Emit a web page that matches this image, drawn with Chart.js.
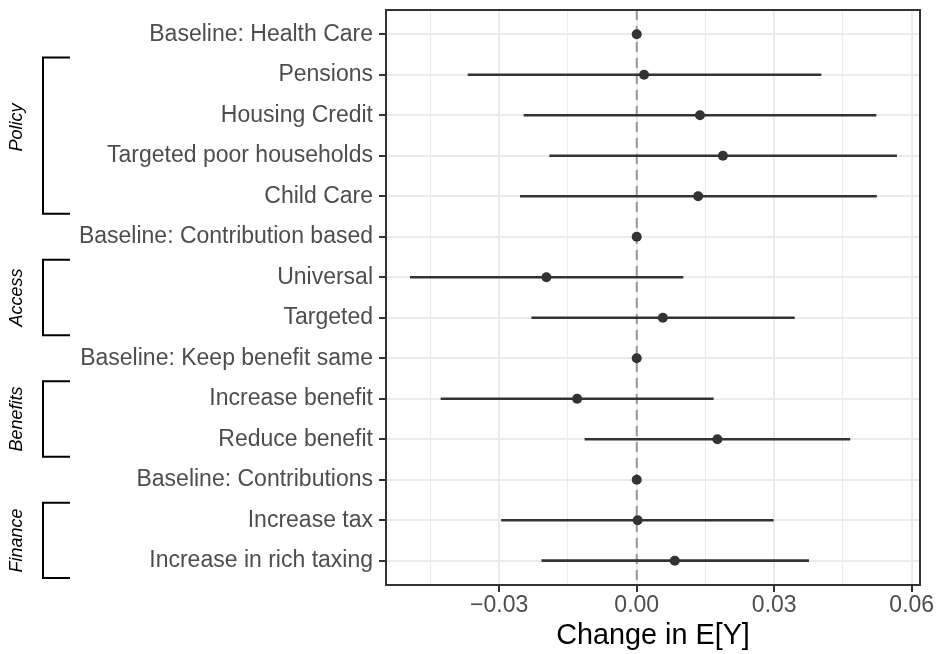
<!DOCTYPE html>
<html>
<head>
<meta charset="utf-8">
<script src="https://cdn.jsdelivr.net/npm/chart.js@4"></script>
<style>
  html, body { margin: 0; padding: 0; background: #fff; }
  #wrap { width: 938px; height: 654px; }
</style>
</head>
<body>
<div id="wrap"><canvas id="coefChart" width="938" height="654"></canvas></div>
<script>
// rows, top to bottom
const rowLabels = [
  'Baseline: Health Care', 'Pensions', 'Housing Credit', 'Targeted poor households', 'Child Care',
  'Baseline: Contribution based', 'Universal', 'Targeted',
  'Baseline: Keep benefit same', 'Increase benefit', 'Reduce benefit',
  'Baseline: Contributions', 'Increase tax', 'Increase in rich taxing'
];
const estimate = [0, 0.0016, 0.0138, 0.0188, 0.0134, 0, -0.0197, 0.0057, 0, -0.0130, 0.0176, 0, 0.0002, 0.0083];
const lower    = [0, -0.0368, -0.0246, -0.0190, -0.0254, 0, -0.0494, -0.0229, 0, -0.0427, -0.0113, 0, -0.0295, -0.0207];
const upper    = [0, 0.0402, 0.0522, 0.0567, 0.0523, 0, 0.0101, 0.0344, 0, 0.0167, 0.0465, 0, 0.0298, 0.0375];

// x axis
const majorTicks = [-0.03, 0, 0.03, 0.06];
const majorLabels = ['\u22120.03', '0.00', '0.03', '0.06'];
const minorTicks = [-0.045, -0.015, 0.015, 0.045];

// attribute groups (brackets on the left)
const groupNames = ['Policy', 'Access', 'Benefits', 'Finance'];
const groupFirst = [1, 6, 9, 12];
const groupLast  = [4, 7, 10, 13];
const groupLabelRow = [2.3, 6.5, 9.5, 12.5];

const FONT = '"Liberation Sans", Arial, Helvetica, sans-serif';
const isMajor = v => majorTicks.some(m => Math.abs(m - v) < 1e-9);

const frameAndBrackets = {
  id: 'frameAndBrackets',
  beforeDatasetsDraw(chart) {
    // dashed zero line
    const {ctx, chartArea, scales} = chart;
    const x0 = scales.x.getPixelForValue(0);
    ctx.save();
    ctx.strokeStyle = '#999999';
    ctx.lineWidth = 2;
    ctx.setLineDash([10, 6]);
    ctx.beginPath();
    ctx.moveTo(x0, chartArea.top);
    ctx.lineTo(x0, chartArea.bottom);
    ctx.stroke();
    ctx.restore();
  },
  afterDraw(chart) {
    const {ctx, chartArea, scales} = chart;
    ctx.save();
    // panel border
    ctx.strokeStyle = '#333333';
    ctx.lineWidth = 2;
    ctx.strokeRect(chartArea.left, chartArea.top, chartArea.right - chartArea.left, chartArea.bottom - chartArea.top);

    // brackets + rotated group names
    ctx.strokeStyle = '#000';
    ctx.lineWidth = 2;
    ctx.lineJoin = 'miter';
    ctx.fillStyle = '#000';
    ctx.font = 'italic 18px ' + FONT;
    ctx.textAlign = 'center';
    ctx.textBaseline = 'middle';
    groupNames.forEach((name, i) => {
      const yTop = scales.y.getPixelForValue(groupFirst[i] - 0.43);
      const yBot = scales.y.getPixelForValue(groupLast[i] + 0.43);
      ctx.beginPath();
      ctx.moveTo(70, yTop);
      ctx.lineTo(43, yTop);
      ctx.lineTo(43, yBot);
      ctx.lineTo(70, yBot);
      ctx.stroke();
      const yl = scales.y.getPixelForValue(groupLabelRow[i]);
      ctx.save();
      ctx.translate(17, yl);
      ctx.rotate(-Math.PI / 2);
      ctx.fillText(name, 0, 0);
      ctx.restore();
    });
    ctx.restore();
  }
};

new Chart(document.getElementById('coefChart'), {
  data: {
    datasets: [
      {
        type: 'bar',
        indexAxis: 'y',
        data: rowLabels.map((_, i) => ({ y: i, x: [lower[i], upper[i]] })),
        backgroundColor: '#333333',
        borderWidth: 0,
        barThickness: 2,
        order: 2
      },
      {
        type: 'scatter',
        data: rowLabels.map((_, i) => ({ x: estimate[i], y: i })),
        backgroundColor: '#333333',
        borderWidth: 0,
        pointRadius: 5,
        order: 1
      }
    ]
  },
  options: {
    responsive: false,
    animation: false,
    layout: { padding: { top: 10, right: 18, bottom: 0, left: 0 } },
    plugins: {
      legend: { display: false },
      tooltip: { enabled: false }
    },
    scales: {
      x: {
        type: 'linear',
        min: -0.0547,
        max: 0.0618,
        offset: false,
        afterBuildTicks: s => { s.ticks = majorTicks.concat(minorTicks).sort((a, b) => a - b).map(v => ({ value: v })); },
        afterFit: s => { s.height = 69; s.paddingLeft = 0; s.paddingRight = 0; },
        border: { display: false },
        grid: {
          offset: false,
          color: '#ebebeb',
          lineWidth: c => (c.tick && isMajor(c.tick.value)) ? 2 : 1,
          drawTicks: true,
          tickLength: 7,
          tickWidth: 2,
          tickColor: c => (c.tick && isMajor(c.tick.value)) ? '#333333' : 'rgba(0,0,0,0)'
        },
        ticks: {
          autoSkip: false,
          maxRotation: 0,
          padding: 0,
          color: '#4d4d4d',
          font: { family: FONT, size: 23 },
          callback: v => {
            const k = majorTicks.findIndex(m => Math.abs(m - v) < 1e-9);
            return k >= 0 ? majorLabels[k] : '';
          }
        },
        title: {
          display: true,
          text: 'Change in E[Y]',
          color: '#000',
          font: { family: FONT, size: 28.8 },
          padding: { top: 0, bottom: 1 }
        }
      },
      y: {
        type: 'linear',
        reverse: true,
        min: -0.6,
        max: rowLabels.length - 1 + 0.6,
        offset: false,
        afterBuildTicks: s => { s.ticks = rowLabels.map((_, i) => ({ value: i })); },
        afterFit: s => { s.width = 386; s.paddingTop = 0; s.paddingBottom = 0; },
        border: { display: false },
        grid: {
          offset: false,
          color: '#ebebeb',
          lineWidth: 2,
          drawTicks: true,
          tickLength: 7,
          tickWidth: 2,
          tickColor: '#333333'
        },
        ticks: {
          autoSkip: false,
          padding: 6,
          color: '#4d4d4d',
          font: { family: FONT, size: 23 },
          callback: v => rowLabels[v]
        }
      }
    }
  },
  plugins: [frameAndBrackets]
});
</script>
</body>
</html>
